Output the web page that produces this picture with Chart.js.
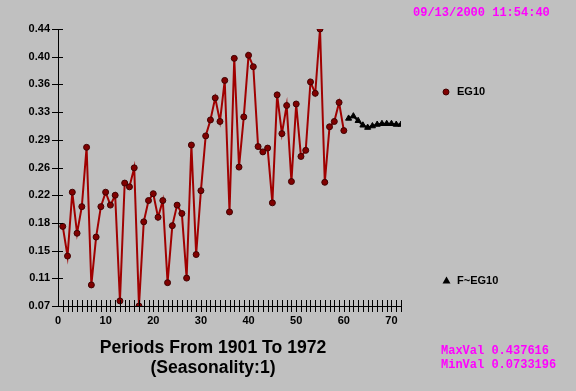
<!DOCTYPE html>
<html>
<head>
<meta charset="utf-8">
<script src="https://cdn.jsdelivr.net/npm/chart.js@4/dist/chart.umd.min.js"></script>
<style>
  html, body { margin: 0; padding: 0; background: #c0c0c0; }
  #wrap { width: 576px; height: 391px; position: relative; }
</style>
</head>
<body>
<div id="wrap"><canvas id="chart" width="576" height="391"></canvas></div>
<script>
// periods 1..60 actual, 61..72 forecast
const actualValues = [
  0.178, 0.139, 0.223, 0.169, 0.204, 0.282, 0.101, 0.164, 0.204, 0.223,
  0.206, 0.219, 0.080, 0.235, 0.230, 0.255, 0.0733, 0.184, 0.212, 0.221,
  0.190, 0.212, 0.104, 0.179, 0.206, 0.195, 0.110, 0.285, 0.141, 0.225,
  0.297, 0.318, 0.347, 0.316, 0.370, 0.197, 0.399, 0.256, 0.322, 0.403,
  0.388, 0.283, 0.276, 0.281, 0.209, 0.351, 0.300, 0.337, 0.237, 0.339,
  0.270, 0.278, 0.368, 0.353, 0.4376, 0.236, 0.309, 0.316, 0.341, 0.304
];
const forecastValues = [
  0.320, 0.323, 0.317, 0.311, 0.308, 0.310, 0.312, 0.313, 0.313, 0.313, 0.312, 0.312
];
const xLabels = [0, 10, 20, 30, 40, 50, 60, 70];
const yTickLabels = ['0.07', '0.11', '0.15', '0.18', '0.22', '0.26', '0.29', '0.33', '0.36', '0.40', '0.44'];
const maxVal = 0.437616;
const minVal = 0.0733196;
const stampText = '09/13/2000 11:54:40';
const titleLines = ['Periods From 1901 To 1972', '(Seasonality:1)'];

const actualPts = actualValues.map((v, i) => ({ x: i + 1, y: v }));
const forecastPts = forecastValues.map((v, i) => ({ x: actualValues.length + i + 1, y: v }));
const yStep = (maxVal - minVal) / (yTickLabels.length - 1);

// draws tick marks crossing the axes, legend and the loose texts
const extras = {
  id: 'extras',
  afterDraw(chart) {
    const ctx = chart.ctx;
    const xs = chart.scales.x, ys = chart.scales.y;
    const area = chart.chartArea;
    ctx.save();
    ctx.strokeStyle = '#000';
    ctx.lineWidth = 1;
    ctx.beginPath();
    for (let i = 1; i <= 72; i++) {
      const px = Math.round(xs.getPixelForValue(i)) + 0.5;
      ctx.moveTo(px, area.bottom - 6);
      ctx.lineTo(px, area.bottom + 6);
    }
    ys.ticks.forEach(t => {
      const py = Math.round(ys.getPixelForValue(t.value)) + 0.5;
      ctx.moveTo(area.left - 6, py);
      ctx.lineTo(area.left + 5, py);
    });
    ctx.stroke();

    // legend
    ctx.fillStyle = '#800000';
    ctx.strokeStyle = '#400000';
    ctx.beginPath();
    ctx.arc(446, 92, 3, 0, Math.PI * 2);
    ctx.fill();
    ctx.stroke();
    ctx.fillStyle = '#000';
    ctx.beginPath();
    ctx.moveTo(446.5, 276.5);
    ctx.lineTo(450.5, 283.5);
    ctx.lineTo(442.5, 283.5);
    ctx.closePath();
    ctx.fill();
    ctx.font = 'bold 11px "Liberation Sans", Arial, sans-serif';
    ctx.textBaseline = 'middle';
    ctx.textAlign = 'left';
    ctx.fillText('EG10', 457, 92);
    ctx.fillText('F~EG10', 457, 281);

    // title under the axis
    ctx.textAlign = 'center';
    ctx.font = 'bold 17.6px "Liberation Sans", Arial, sans-serif';
    ctx.fillText(titleLines[0], 213, 348);
    ctx.fillText(titleLines[1], 213, 368);

    // magenta stamps
    ctx.fillStyle = '#ff00ff';
    ctx.textAlign = 'left';
    ctx.font = 'bold 12px "Liberation Mono", "DejaVu Sans Mono", monospace';
    ctx.fillText(stampText, 413, 13);
    ctx.fillText('MaxVal ' + maxVal, 441, 351);
    ctx.fillText('MinVal ' + minVal, 441, 365);
    ctx.restore();
  }
};

const ctx = document.getElementById('chart').getContext('2d');
const chart = new Chart(ctx, {
  type: 'line',
  data: {
    datasets: [{
      label: 'EG10',
      data: actualPts,
      borderColor: '#a00000',
      borderWidth: 2,
      backgroundColor: '#800000',
      pointBackgroundColor: '#800000',
      pointBorderColor: '#400000',
      pointBorderWidth: 1,
      pointRadius: 3,
      tension: 0
    }, {
      label: 'F~EG10',
      data: forecastPts,
      borderColor: '#000',
      borderWidth: 2,
      backgroundColor: '#000',
      pointStyle: 'triangle',
      pointRadius: 3.5,
      pointBorderWidth: 1,
      tension: 0
    }]
  },
  options: {
    responsive: false,
    animation: false,
    events: [],
    layout: { padding: { top: 29, right: 175, left: 0, bottom: 0 } },
    plugins: { legend: { display: false }, tooltip: { enabled: false } },
    scales: {
      x: {
        type: 'linear',
        min: 0,
        max: 72,
        grid: { display: false },
        border: { display: true, color: '#000', width: 1 },
        afterBuildTicks: s => { s.ticks = xLabels.map(v => ({ value: v })); },
        afterFit: s => { s.height = 85; },
        ticks: {
          color: '#000',
          padding: 0,
          maxRotation: 0,
          autoSkip: false,
          font: { family: '"Liberation Sans", Arial, sans-serif', size: 11, weight: 'bold' }
        }
      },
      y: {
        min: minVal,
        max: maxVal,
        grid: { display: false },
        border: { display: true, color: '#000', width: 1 },
        afterBuildTicks: s => { s.ticks = yTickLabels.map((t, i) => ({ value: minVal + i * yStep })); },
        afterFit: s => { s.width = 58; },
        ticks: {
          color: '#000',
          padding: 0,
          autoSkip: false,
          callback: (v, i) => yTickLabels[i],
          font: { family: '"Liberation Sans", Arial, sans-serif', size: 11, weight: 'bold' }
        }
      }
    }
  },
  plugins: [extras]
});
</script>
</body>
</html>
